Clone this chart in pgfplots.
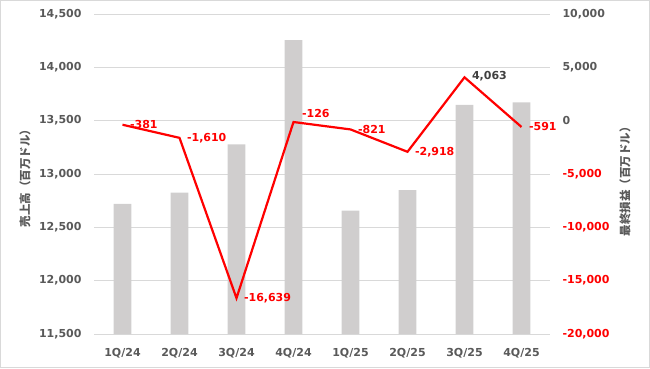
\documentclass[border=0pt]{standalone}
\usepackage{pgfplots}
\pgfplotsset{compat=1.18}
\usepackage{fontspec}
\setmainfont{DejaVu Sans}
\newfontfamily\jp{Noto Sans CJK JP}
\definecolor{bargray}{RGB}{208,206,206}
\definecolor{txtgray}{RGB}{89,89,89}
\definecolor{gridgray}{RGB}{217,217,217}
\definecolor{lblgray}{RGB}{64,64,64}
\definecolor{myred}{RGB}{255,0,0}
\begin{document}
\begin{tikzpicture}[x=1pt,y=1pt]
\useasboundingbox (0,0) rectangle (650,368);
\draw[gridgray] (0.5,0.5) rectangle (649.5,367.5);
\begin{axis}[
  at={(94pt,34pt)}, anchor=south west, scale only axis,
  width=456pt, height=320pt,
  xmin=-0.5, xmax=7.5, ymin=11500, ymax=14500,
  ytick={11500,12000,...,14500},
  scaled y ticks=false,
  yticklabel style={/pgf/number format/fixed},
  xtick={0,...,7},
  xticklabels={1Q/24,2Q/24,3Q/24,4Q/24,1Q/25,2Q/25,3Q/25,4Q/25},
  ymajorgrids, grid style={gridgray, line width=0.75pt},
  axis line style={draw=none}, major tick style={draw=none},
  ticklabel style={font=\bfseries\fontsize{11}{13}\selectfont, text=txtgray},
  /pgf/number format/assume math mode=true,
  /pgf/number format/1000 sep={,},
  yticklabel style={xshift=-9pt},
  xticklabel style={yshift=-11pt},
  ylabel={\jp\bfseries 売上高（百万ドル）},
  every axis y label/.style={at={(axis description cs:-0.1513,0.495)}, rotate=90, anchor=center, font=\fontsize{11.5}{13}\selectfont, text=txtgray},
]
\addplot[ybar, bar width=17.7pt, fill=bargray, draw=none] coordinates {
  (0,12720) (1,12825) (2,13278) (3,14256) (4,12656) (5,12850) (6,13647) (7,13672)};
\end{axis}
\begin{axis}[
  at={(94pt,34pt)}, anchor=south west, scale only axis,
  width=456pt, height=320pt,
  xmin=-0.5, xmax=7.5, ymin=-20000, ymax=10000,
  scaled y ticks=false,
  axis y line*=right, axis x line=none,
  axis line style={draw=none}, major tick style={draw=none},
  ytick={-20000,-15000,-10000,-5000,0,5000,10000},
  yticklabels={{\textcolor{myred}{-20,000}},{\textcolor{myred}{-15,000}},{\textcolor{myred}{-10,000}},{\textcolor{myred}{-5,000}},0,{5,000},{10,000}},
  ticklabel style={font=\bfseries\fontsize{11}{13}\selectfont, text=txtgray},
  yticklabel style={xshift=9pt},
  ylabel={\jp\bfseries 最終損益（百万ドル）},
  every axis y label/.style={at={(axis description cs:1.1645,0.485)}, rotate=90, anchor=center, font=\fontsize{11.5}{13}\selectfont, text=txtgray},
  clip=false,
]
\addplot[myred, line width=2.2pt, mark=none] coordinates {
  (0,-381) (1,-1610) (2,-16639) (3,-126) (4,-821) (5,-2918) (6,4063) (7,-591)};
\addplot[draw=none, mark=none, nodes near coords, point meta=explicit symbolic,
  nodes near coords style={anchor=west, xshift=4pt, yshift=0pt, text=myred, font=\bfseries\fontsize{11}{13}\selectfont}]
  table[meta=lab] {
x y lab
0 -381 -381
1 -1610 -1,610
2 -16639 -16,639
4 -821 -821
5 -2918 -2,918
7 -591 -591
};
\addplot[draw=none, mark=none, nodes near coords, point meta=explicit symbolic,
  nodes near coords style={anchor=west, xshift=5pt, yshift=9pt, text=myred, font=\bfseries\fontsize{11}{13}\selectfont}]
  table[meta=lab] {
x y lab
3 -126 -126
};
\addplot[draw=none, mark=none, nodes near coords, point meta=explicit symbolic,
  nodes near coords style={anchor=west, xshift=4pt, yshift=1pt, text=lblgray, font=\bfseries\fontsize{11}{13}\selectfont}]
  table[meta=lab] {
x y lab
6 4063 4,063
};
\end{axis}
\end{tikzpicture}
\end{document}
